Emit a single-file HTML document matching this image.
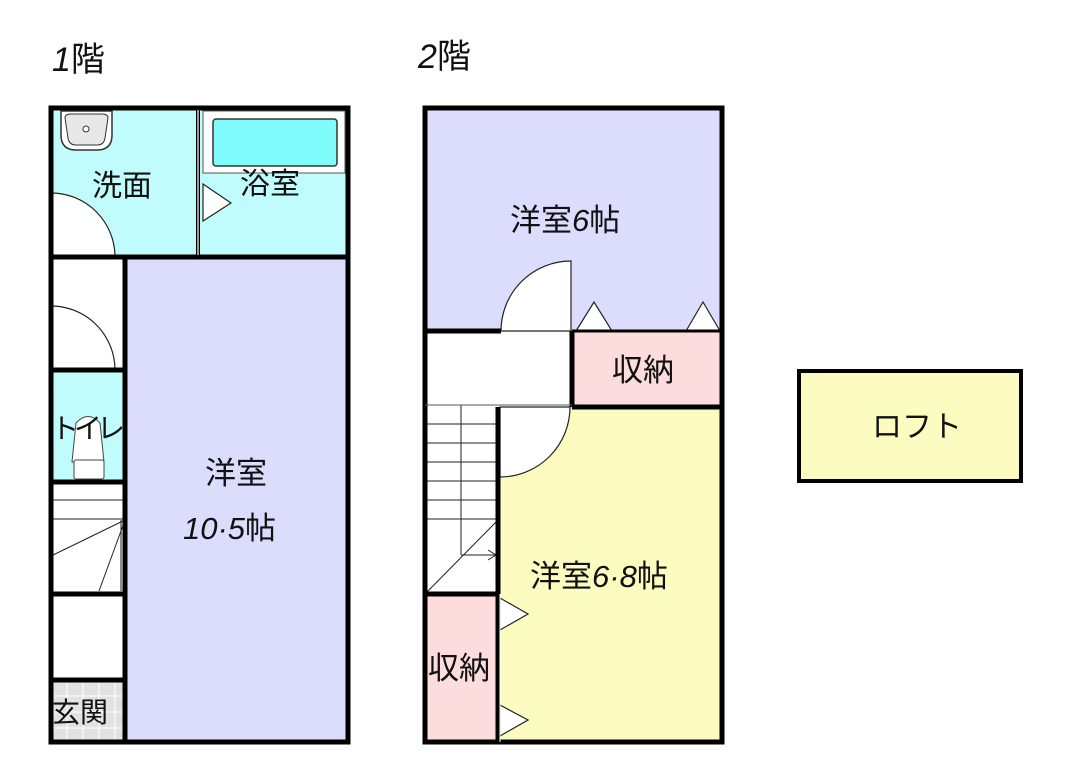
<!DOCTYPE html>
<html><head><meta charset="utf-8"><style>
html,body{margin:0;padding:0;background:#fff}
svg{display:block}
text{font-family:"Liberation Sans","Noto Sans CJK JP",sans-serif;fill:#111}
</style></head><body>
<svg width="1070" height="778" viewBox="0 0 1070 778" xmlns="http://www.w3.org/2000/svg">
<text x="52" y="71" font-size="34"><tspan font-style="italic">1</tspan>階</text>
<text x="418" y="68" font-size="34"><tspan font-style="italic">2</tspan>階</text>

<!-- ===== 1F ===== -->
<rect x="51" y="108" width="147" height="149" fill="#c0fcfc"/>
<rect x="199" y="108" width="149" height="149" fill="#c0fcfc"/>
<rect x="125" y="257" width="223" height="485" fill="#dcdcfc"/>
<rect x="51" y="257" width="74" height="113" fill="#fff"/>
<rect x="51" y="370" width="74" height="112" fill="#c0fcfc"/>
<rect x="51" y="482" width="74" height="260" fill="#fff"/>
<rect x="51" y="680" width="74" height="62" fill="#e2e2e2"/>
<g stroke="#fff" stroke-width="1">
<line x1="67" y1="680" x2="67" y2="742"/><line x1="83" y1="680" x2="83" y2="742"/><line x1="99" y1="680" x2="99" y2="742"/><line x1="115" y1="680" x2="115" y2="742"/>
<line x1="51" y1="696" x2="125" y2="696"/><line x1="51" y1="712" x2="125" y2="712"/><line x1="51" y1="728" x2="125" y2="728"/>
</g>
<rect x="203" y="111" width="142" height="62" fill="#fff" stroke="#555" stroke-width="1"/>
<rect x="213" y="119" width="124" height="47" rx="3" fill="#80fcfc" stroke="#333" stroke-width="1.5"/>
<path d="M61 111 H112 V135 Q112 150 97 150 H76 Q61 150 61 135 Z" fill="#fff" stroke="#333" stroke-width="1.5"/>
<path d="M65 118 Q65 114 71 114 H102 Q108 114 108 118 L105 138 Q104 145 97 145 H76 Q69 145 68 138 Z" fill="#e8e8e8" stroke="#333" stroke-width="1"/>
<circle cx="86" cy="129" r="3" fill="#fff" stroke="#333"/>
<path d="M76 423 Q88 410 100 423 L104 462 H72 Z" fill="#fff" stroke="#444" stroke-width="1"/>
<rect x="74" y="460" width="30" height="19" rx="2" fill="#fff" stroke="#444" stroke-width="1"/>
<path d="M51 193 A64 64 0 0 1 115 257 H51 Z" fill="#fff" stroke="#222" stroke-width="1.2"/>
<path d="M51 306 A64 64 0 0 1 115 370 H51 Z" fill="#fff" stroke="#222" stroke-width="1.2"/>
<polygon points="203,184 231,203 203,221" fill="#fff" stroke="#222" stroke-width="1.2"/>
<g stroke="#222" stroke-width="1">
<line x1="51" y1="500" x2="125" y2="500"/><line x1="51" y1="519" x2="125" y2="519"/>
<line x1="125" y1="520" x2="51" y2="556"/><line x1="125" y1="520" x2="99" y2="591"/>
<line x1="121" y1="520" x2="121" y2="591"/>
</g>
<g stroke="#000" stroke-width="5" fill="none">
<rect x="51" y="108" width="297" height="634"/>
<line x1="51" y1="257" x2="348" y2="257"/>
<line x1="125" y1="257" x2="125" y2="742"/>
<line x1="51" y1="370" x2="125" y2="370"/>
<line x1="51" y1="482" x2="125" y2="482"/>
<line x1="51" y1="594" x2="125" y2="594"/>
<line x1="51" y1="680" x2="125" y2="680"/>
</g>
<line x1="198" y1="108" x2="198" y2="257" stroke="#000" stroke-width="4"/>
<line x1="198" y1="110" x2="198" y2="255" stroke="#fff" stroke-width="1.2"/>
<text x="92" y="196" font-size="30">洗面</text>
<text x="240" y="194" font-size="30">浴室</text>
<text x="51" y="438" font-size="28" letter-spacing="-5">トイレ</text>
<text x="205" y="484" font-size="31">洋室</text>
<text x="183" y="539" font-size="31"><tspan font-style="italic">10·5</tspan>帖</text>
<text x="52" y="722" font-size="28">玄関</text>

<!-- ===== 2F ===== -->
<rect x="425" y="108" width="297" height="223" fill="#dcdcfc"/>
<rect x="425" y="331" width="147" height="74" fill="#fff"/>
<rect x="572" y="331" width="150" height="76" fill="#fcdcdc"/>
<rect x="498" y="407" width="224" height="335" fill="#fcfcc0"/>
<rect x="425" y="405" width="73" height="189" fill="#fff"/>
<rect x="425" y="594" width="73" height="148" fill="#fcdcdc"/>
<g stroke="#222" stroke-width="1">
<line x1="425" y1="424" x2="498" y2="424"/><line x1="425" y1="443" x2="498" y2="443"/><line x1="425" y1="462" x2="498" y2="462"/>
<line x1="425" y1="481" x2="498" y2="481"/><line x1="425" y1="500" x2="498" y2="500"/><line x1="425" y1="519" x2="498" y2="519"/>
<line x1="461" y1="405" x2="461" y2="555"/>
<line x1="498" y1="520" x2="427" y2="592"/>
<line x1="461" y1="555" x2="496" y2="555"/>
<polyline points="488,550 496,555 488,560" fill="none"/>
</g>
<path d="M571 261 A70 70 0 0 0 501 331 H571 Z" fill="#fff" stroke="#222" stroke-width="1.2"/>
<path d="M570 407 A70 70 0 0 1 500 477 V407 Z" fill="#fff" stroke="#222" stroke-width="1.2"/>
<polygon points="576,331 594,302 612,331" fill="#fff" stroke="#222" stroke-width="1.2"/>
<polygon points="686,331 703,302 720,331" fill="#fff" stroke="#222" stroke-width="1.2"/>
<polygon points="500,598 528,614 500,630" fill="#fff" stroke="#222" stroke-width="1.2"/>
<polygon points="500,705 528,720 500,736" fill="#fff" stroke="#222" stroke-width="1.2"/>
<g stroke="#000" stroke-width="5" fill="none">
<rect x="425" y="108" width="297" height="634"/>
<line x1="425" y1="331" x2="501" y2="331"/>
<line x1="572" y1="331" x2="722" y2="331" stroke-width="3"/>
<line x1="572" y1="331" x2="572" y2="407"/>
<line x1="572" y1="407" x2="722" y2="407"/>
<line x1="498" y1="407" x2="498" y2="742"/>
<line x1="425" y1="594" x2="498" y2="594"/>
</g>
<line x1="425" y1="405" x2="572" y2="405" stroke="#555" stroke-width="1"/>
<line x1="500" y1="594" x2="500" y2="742" stroke="#fff" stroke-width="1"/>
<text x="510" y="231" font-size="31">洋室<tspan font-style="italic">6</tspan>帖</text>
<text x="612" y="381" font-size="31">収納</text>
<text x="530" y="587" font-size="31">洋室<tspan font-style="italic">6·8</tspan>帖</text>
<text x="428" y="679" font-size="31">収納</text>

<rect x="799" y="371" width="222" height="110" fill="#fcfcc0" stroke="#000" stroke-width="4"/>
<text x="872" y="437" font-size="30">ロフト</text>
</svg>
</body></html>
